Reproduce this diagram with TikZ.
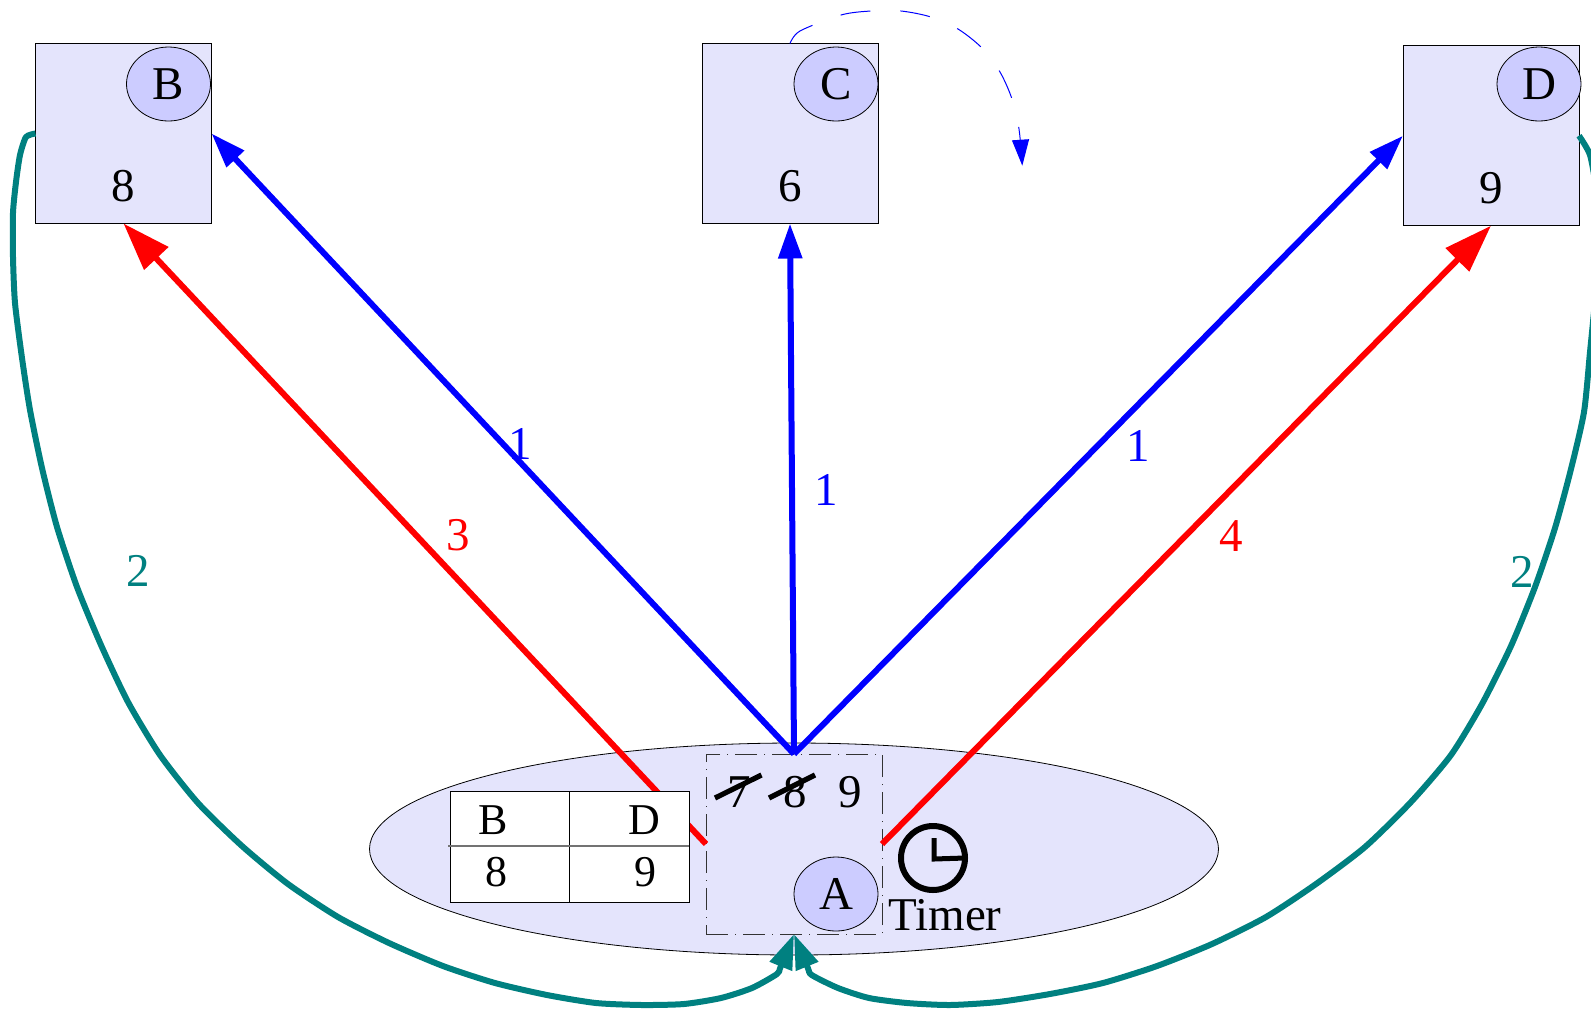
\documentclass[tikz,border=0pt]{standalone}
\usepackage{fontspec}
\setmainfont{Liberation Serif}
\usetikzlibrary{arrows.meta,shapes.geometric}
\definecolor{boxfill}{HTML}{E4E4FC}
\definecolor{agentfill}{HTML}{CCCCFF}
\definecolor{tealline}{HTML}{008080}

\begin{document}
\begin{tikzpicture}[x=0.5pt, y=-0.5pt,
  every node/.style={inner sep=0pt, outer sep=0pt, font=\fontsize{23.5}{26}\selectfont},
  peerbox/.style={draw, line width=0.5pt, fill=boxfill, minimum width=88pt, minimum height=90pt},
  agent/.style={draw, ellipse, line width=0.4pt, fill=agentfill, minimum width=42pt, minimum height=37pt},
  cell/.style={font=\fontsize{22}{26}\selectfont},
  bluearrow/.style={draw=blue, line width=3pt, -{Triangle[length=17.5pt,width=11.5pt]}},
  redarrow/.style={draw=red, line width=3pt, -{Triangle[length=24pt,width=16pt]}},
  tealarrow/.style={draw=tealline, line width=3pt, line join=round, -{Triangle[length=17.5pt,width=11.5pt]}},
  strike/.style={line width=2.6pt},
  bluelabel/.style={text=blue},
  redlabel/.style={text=red},
  teallabel/.style={text=tealline}]

  \clip (0,0) rectangle (1591,1008);

  % Define coordinates for nodes
  \node[peerbox] (boxB) at (123.5,133.5) {};
  \node[peerbox] (boxC) at (790,133.5) {};
  \node[peerbox] (boxD) at (1491,135.7) {};
  \node[agent] (B) at (168.5,84) {B};
  \node[agent] (C) at (836,84) {C};
  \node[agent] (D) at (1539,84) {D};
  \node (valB) at (123.5,186) {8};
  \node (valC) at (790.5,186) {6};
  \node (valD) at (1491.5,188) {9};

  \node[draw, ellipse, line width=0.4pt, fill=boxfill, minimum width=424.5pt, minimum height=106pt] (hostA) at (794,849) {};
  \node[draw, line width=0.5pt, black!80, dash pattern=on 11pt off 3.5pt on 0.5pt off 3.5pt, minimum width=88pt, minimum height=90pt] (window) at (794,844) {};
  \node[agent] (A) at (836,894) {A};

  % Draw arrows between nodes
  \draw[redarrow] (window.west) to (boxB.south);
  \draw[redarrow] (window.east) to (boxD.south);
  \draw[bluearrow] (window.north) to (boxB.east);
  \draw[bluearrow] (window.north) to (boxC.south);
  \draw[bluearrow] (window.north) to (boxD.west);
  \draw[tealarrow] plot[smooth, tension=0.4] coordinates {(boxB.west) (26,137) (20,155) (16,182) (13,213) (13,257) (15,303) (22,358) (30,410) (42,468) (57,527) (77,587) (101,645) (128,702) (160,755) (198,803) (242,846) (288,884) (338,917) (389,943) (443,966) (495,983) (547,995) (596,1003) (642,1005) (684,1004) (721,998) (752,988) (777,974) (780.5,967) (window.south)};
  \draw[tealarrow] plot[smooth, tension=0.4] coordinates {(boxD.east) (1590,155) (1596,190) (1598,245) (1595,300) (1590,352) (1584,412) (1571,469) (1555,528) (1535,587) (1511,646) (1482,704) (1451,755) (1411,802) (1365,847) (1316,884) (1266,917) (1212,944) (1157,966) (1103,983) (1050,994) (998,1002) (950,1005) (907,1003) (869,998) (838,988) (811.7,975) (807.7,967.5) (window.south)};
  \draw[blue, line width=0.5pt, dash pattern=on 15pt off 15pt, -{Triangle[length=13pt,width=8.5pt]}] plot[smooth, tension=0.5] coordinates {(boxC.north) (800,31) (841,15) (871,11) (901,11) (931,17) (958,29) (982,48) (1000,72) (1012,99) (1019,129) (1022.3,165.7)};

  % Table
  \node[draw, line width=0.5pt, fill=white, minimum width=119.5pt, minimum height=55.2pt] (tableBox) at (569.5,847) {};
  \draw[line width=0.5pt] (tableBox.north) -- (tableBox.south);
  \draw[line width=0.7pt, black!55] ([xshift=-1pt,yshift=0.6pt]tableBox.west) -- ([yshift=0.6pt]tableBox.east);
  \node[cell] (tabB) at (493.5,820.5) {B};
  \node[cell] (tabD) at (644.5,820.5) {D};
  \node[cell] (tab8) at (496,872.5) {8};
  \node[cell] (tab9) at (645,872.5) {9};

  % Sequence numbers
  \node (seq7) at (739,792) {7};
  \node (seq8) at (795,792) {8};
  \node (seq9) at (850,792) {9};
  \draw[strike] (715,798) -- (761.5,775);
  \draw[strike] (769,798) -- (815,775);

  % Timer
  \node[draw, circle, line width=3pt, minimum size=32pt] (clock) at (933,858) {};
  \draw[line width=2.5pt] (934,838) -- (934,859) -- (clock.east);
  \node (timer) at (945,915) {Timer};

  % Labels
  \node[bluelabel] (lab1a) at (520.5,444) {1};
  \node[bluelabel] (lab1b) at (826.5,490) {1};
  \node[bluelabel] (lab1c) at (1138.5,445.5) {1};
  \node[redlabel] (lab3) at (458.6,535) {3};
  \node[redlabel] (lab4) at (1231,536) {4};
  \node[teallabel] (lab2a) at (138.5,571) {2};
  \node[teallabel] (lab2b) at (1522.5,572) {2};
\end{tikzpicture}
\end{document}
